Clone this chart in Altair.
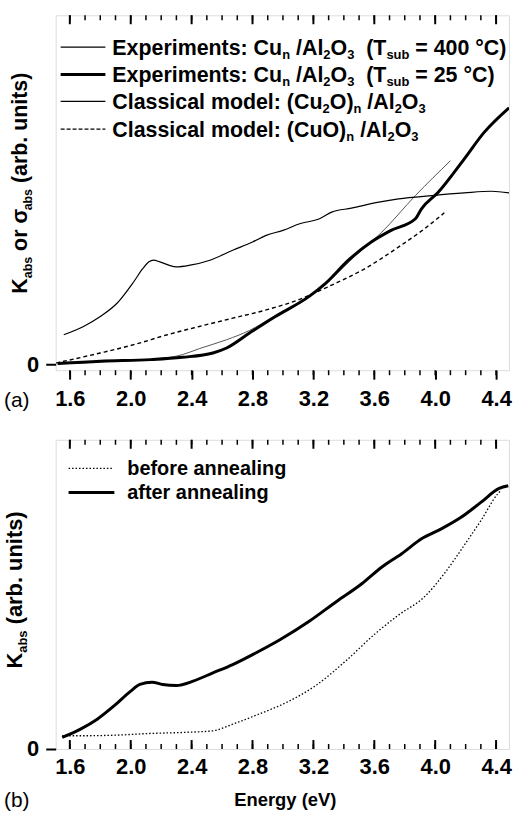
import altair as alt
import pandas as pd

FONT = "Liberation Sans"

# ---------------- data: panel (a) ----------------
e_400 = [1.56, 1.69, 1.80, 1.91, 2.02, 2.08, 2.12, 2.15, 2.19, 2.25, 2.30, 2.39, 2.52, 2.67, 2.80, 2.89,
         3.00, 3.11, 3.24, 3.32, 3.45, 3.63, 3.76, 3.98, 4.19, 4.37, 4.485]
k_400 = [9.0, 11.5, 14.5, 18.5, 25.0, 29.0, 31.0, 31.5, 31.0, 30.0, 29.5, 30.0, 31.5, 34.5, 37.0, 39.0,
         40.5, 42.5, 44.0, 46.0, 47.2, 49.0, 50.0, 51.0, 51.8, 52.3, 51.8]

e_25 = [1.52, 1.80, 2.13, 2.34, 2.54, 2.63, 2.78, 2.95, 3.17, 3.28, 3.43, 3.58, 3.71, 3.87, 3.91, 4.02,
        4.19, 4.32, 4.485]
k_25 = [0.3, 1.0, 1.5, 2.2, 3.5, 5.0, 9.5, 14.5, 20.5, 24.5, 31.5, 37.0, 40.5, 44.0, 47.0, 52.0,
        62.0, 70.0, 77.5]

e_cu2o = [1.52, 1.80, 2.13, 2.34, 2.45, 2.63, 2.78, 2.95, 3.17, 3.32, 3.48, 3.65, 3.87, 4.10]
s_cu2o = [0.2, 0.8, 1.5, 3.0, 4.8, 7.5, 10.3, 14.8, 20.5, 26.0, 33.0, 40.0, 51.0, 61.5]

e_cuo = [1.51, 1.56, 1.80, 2.02, 2.24, 2.45, 2.67, 2.89, 3.11, 3.32, 3.54, 3.76, 3.93, 4.06]
s_cuo = [0.5, 1.0, 3.5, 6.0, 9.0, 11.5, 14.0, 16.5, 19.7, 24.0, 29.0, 35.5, 41.0, 45.8]

# ---------------- data: panel (b) ----------------
e_after = [1.55, 1.67, 1.78, 1.89, 2.00, 2.06, 2.14, 2.21, 2.30, 2.41, 2.54, 2.67, 2.80, 2.98, 3.17,
           3.35, 3.52, 3.65, 3.78, 3.91, 4.04, 4.17, 4.30, 4.42, 4.48]
k_after = [3.5, 6.0, 9.0, 13.0, 17.5, 19.5, 20.2, 19.5, 19.2, 20.5, 23.0, 25.5, 28.5, 33.0, 38.5,
           44.5, 50.0, 55.0, 59.0, 63.5, 66.5, 70.0, 74.5, 78.7, 79.5]

e_before = [1.55, 1.69, 1.91, 2.13, 2.34, 2.54, 2.67, 2.84, 3.02, 3.21, 3.41, 3.61, 3.76, 3.93, 4.06,
            4.19, 4.30, 4.41, 4.43]
k_before = [4.0, 4.0, 4.2, 4.7, 5.0, 5.5, 7.5, 10.5, 14.0, 19.0, 26.5, 35.0, 40.5, 46.0, 53.0,
            61.5, 69.0, 77.0, 78.0]

major_ticks = [1.6, 2.0, 2.4, 2.8, 3.2, 3.6, 4.0, 4.4]
minor_ticks = [1.6, 1.7, 1.8, 1.9, 2.0, 2.1, 2.2, 2.3, 2.4, 2.5, 2.6, 2.7, 2.8, 2.9, 3.0, 3.1, 3.2,
               3.3, 3.4, 3.5, 3.6, 3.7, 3.8, 3.9, 4.0, 4.1, 4.2, 4.3, 4.4]

XDOM = [1.507, 4.485]
YDOM_A = [-1.7, 105.4]
YDOM_B = [0.0, 93.4]
W = 456
HA = 357
HB = 311

# Liberation Sans Bold advance widths (per 1000 em)
BOLD = {' ': 278, '(': 333, ')': 333, '.': 278, '/': 278, ':': 333, '=': 584, '°': 400,
        'A': 722, 'C': 722, 'E': 667, 'K': 722, 'O': 778, 'T': 611,
        'a': 556, 'b': 611, 'c': 556, 'd': 611, 'e': 556, 'f': 333, 'g': 611, 'i': 278,
        'l': 278, 'm': 889, 'n': 611, 'o': 611, 'p': 611, 'r': 389, 's': 556, 't': 333,
        'u': 611, 'x': 556, 'y': 556, 'σ': 617}


def tw(s, size):
    return sum(BOLD.get(c, 556) for c in s) * size / 1000.0


one = pd.DataFrame({"o": [0]})


def text_layer(s, px, py, size, angle=0, weight="bold", align="left"):
    return alt.Chart(one).mark_text(
        align=align, baseline="alphabetic", font=FONT, fontWeight=weight,
        fontSize=size, angle=angle, color="black"
    ).encode(x=alt.value(px), y=alt.value(py), text=alt.value(s))


def rich(segments, px, py, size, subsize, subdy, angle=0):
    out = []
    pos = 0.0
    for s, sub in segments:
        fs = subsize if sub else size
        lead = len(s) - len(s.lstrip(" "))
        off = pos + tw(" " * lead, fs)
        if angle == 0:
            x, y = px + off, py + (subdy if sub else 0)
        else:
            x, y = px + (subdy if sub else 0), py - off
        if s.strip():
            out.append(text_layer(s.strip(), x, y, fs, angle))
        pos += tw(s, fs)
    return out


def sample(x1, x2, y, width, dash=None):
    kw = dict(color="black", strokeWidth=width)
    if dash:
        kw["strokeDash"] = dash
    return alt.Chart(one).mark_rule(**kw).encode(
        x=alt.value(x1), x2=alt.value(x2), y=alt.value(y))


def series(e, k):
    return pd.DataFrame({"E": e, "K": k})


def xenc(outward):
    return alt.X("E:Q", scale=alt.Scale(domain=XDOM, nice=False, zero=False),
                 axis=alt.Axis(values=major_ticks, format=".1f", ticks=outward,
                               tickSize=9, tickWidth=2, tickColor="black",
                               labelFont=FONT, labelFontWeight="bold", labelFontSize=22,
                               labelColor="black", labelPadding=9 if outward else 8,
                               labelFlush=False,
                               domain=False, grid=False, title=None))


def yenc(dom):
    return alt.Y("K:Q", scale=alt.Scale(domain=dom, nice=False, zero=False),
                 axis=alt.Axis(values=[0], tickSize=10, tickWidth=2, tickColor="black",
                               labelFont=FONT, labelFontWeight="bold", labelFontSize=22,
                               labelColor="black", labelPadding=7,
                               domain=False, grid=False, title=None))


def tick_rules(X, H, bottom_inward):
    tmaj = pd.DataFrame({"E": major_ticks})
    tmin = pd.DataFrame({"E": minor_ticks})
    layers = [
        alt.Chart(tmaj).mark_rule(color="black", strokeWidth=2).encode(
            x=X, y=alt.value(0), y2=alt.value(9)),
        alt.Chart(tmin).mark_rule(color="black", strokeWidth=1.5).encode(
            x=X, y=alt.value(0), y2=alt.value(5)),
    ]
    if bottom_inward:
        layers += [
            alt.Chart(tmaj).mark_rule(color="black", strokeWidth=2).encode(
                x=X, y=alt.value(H - 9), y2=alt.value(H)),
            alt.Chart(tmin).mark_rule(color="black", strokeWidth=1.5).encode(
                x=X, y=alt.value(H - 5), y2=alt.value(H)),
        ]
    else:
        layers += [
            alt.Chart(tmin).mark_rule(color="black", strokeWidth=1.5).encode(
                x=X, y=alt.value(H), y2=alt.value(H + 5)),
        ]
    return layers


def line(e, k, X, Y, **kw):
    return alt.Chart(series(e, k)).mark_line(color=kw.pop("color", "black"), clip=True,
                                             interpolate="monotone", **kw).encode(x=X, y=Y)


# ---------------- panel (a) ----------------
XA = xenc(True)
YA = yenc(YDOM_A)

la = [
    line(e_cuo, s_cuo, XA, YA, strokeWidth=1.4, strokeDash=[4, 3]),
    line(e_cu2o, s_cu2o, XA, YA, color="#555555", strokeWidth=1.0),
    line(e_400, k_400, XA, YA, strokeWidth=1.2),
    line(e_25, k_25, XA, YA, strokeWidth=3.0),
]
la += tick_rules(XA, HA, bottom_inward=False)

LX, SX1, SX2 = 57, 5, 50
LS, SS, SD = 21.5, 13, 4
leg_a = [
    (32, 1.2, None, [("Experiments: Cu", 0), ("n", 1), (" /Al", 0), ("2", 1), ("O", 0), ("3", 1),
                     ("  (T", 0), ("sub", 1), (" = 400 °C)", 0)]),
    (59.5, 3.0, None, [("Experiments: Cu", 0), ("n", 1), (" /Al", 0), ("2", 1), ("O", 0), ("3", 1),
                       ("  (T", 0), ("sub", 1), (" = 25 °C)", 0)]),
    (86.5, 1.2, None, [("Classical model: (Cu", 0), ("2", 1), ("O)", 0), ("n", 1), (" /Al", 0),
                       ("2", 1), ("O", 0), ("3", 1)]),
    (114.5, 1.3, [4, 2], [("Classical model: (CuO)", 0), ("n", 1), (" /Al", 0), ("2", 1), ("O", 0),
                          ("3", 1)]),
]
for yy, wdt, dash, segs in leg_a:
    la.append(sample(SX1, SX2, yy, wdt, dash))
    la += rich(segs, LX, yy + 7.5, LS, SS, SD)

la += rich([("K", 0), ("abs", 1), (" or σ", 0), ("abs", 1), (" (arb. units)", 0)],
           -29, 280, 21.5, 12.5, 5, angle=270)
la.append(text_layer("(a)", -52, 394, 21, weight="normal"))

panel_a = alt.layer(*la).properties(width=W, height=HA)

# ---------------- panel (b) ----------------
XB = xenc(False)
YB = yenc(YDOM_B)

lb = [
    line(e_before, k_before, XB, YB, strokeWidth=1.3, strokeDash=[1.5, 2]),
    line(e_after, k_after, XB, YB, strokeWidth=3.0),
]
lb += tick_rules(XB, HB, bottom_inward=True)

lb.append(sample(13, 57, 28.7, 1.3, [1.5, 2]))
lb += rich([("before annealing", 0)], 72, 35.7, 20, 11, 4)
lb.append(sample(13, 59, 53, 3.0))
lb += rich([("after annealing", 0)], 72, 59.7, 20, 11, 4)

lb += rich([("K", 0), ("abs", 1), (" (arb. units)", 0)], -34, 230, 22, 13, 5, angle=270)
lb.append(text_layer("(b)", -52, 369, 21, weight="normal"))
lb.append(text_layer("Energy (eV)", W / 2 + 3, 368, 18.5, align="center"))

panel_b = alt.layer(*lb).properties(width=W, height=HB)

chart = alt.vconcat(panel_a, panel_b, spacing=26).properties(
    padding={"left": 3, "top": 11, "right": 2, "bottom": 2}
).configure_view(stroke="black", strokeWidth=2).configure(background="white")

chart.save("out.html", embed_options={"renderer": "svg", "actions": False})
